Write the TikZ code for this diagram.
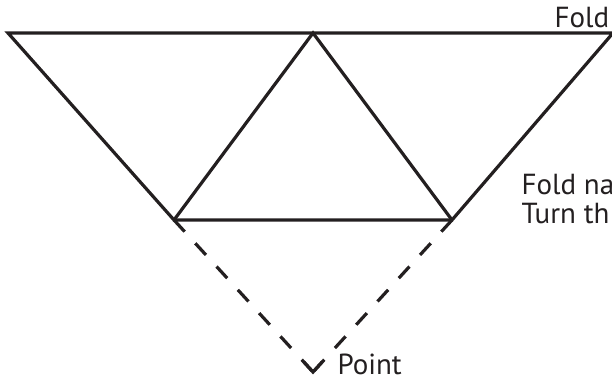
\documentclass[tikz,border=0pt]{standalone}
\usepackage{fontspec}
\setmainfont{PT Sans}
\usetikzlibrary{positioning, calc}
\definecolor{ink}{RGB}{35,31,32}

\begin{document}
\begin{tikzpicture}[x=1pt, y=-1pt, line width=3.2pt, font=\fontsize{29}{29}\selectfont,
    fold/.style={draw=ink, line join=miter},
    crease/.style={draw=ink, dash pattern=on 15.77pt off 15.77pt},
    note/.style={text=ink, inner sep=0pt, anchor=base west}]
    \useasboundingbox (0,0) rectangle (612,383);
    \coordinate (tl) at (8,33);
    \coordinate (tr) at (613,33);
    \coordinate (apex) at (313,33);
    \coordinate (bl) at (174,220);
    \coordinate (br) at (452,220);
    \coordinate (pt) at (313,372);
    \draw[fold] (tl) -- (tr) -- (br) -- (bl) -- cycle;
    \draw[fold] (bl) -- (apex) -- (br);
    \draw[crease] (bl) -- (pt);
    \draw[crease] (br) -- (pt);
    \draw[fold] ($(pt)!14pt!(bl)$) -- (pt) -- ($(pt)!14pt!(br)$);
    \node[note] (fold) at (553,27) {Fold};
    \node[note] (point) at (336,374) {Point};
    \node[note] (foldna) at (520,194) {Fold na};
    \node[note, below=29pt of foldna.base west, anchor=base west] (turnth) {Turn th};
\end{tikzpicture}
\end{document}
